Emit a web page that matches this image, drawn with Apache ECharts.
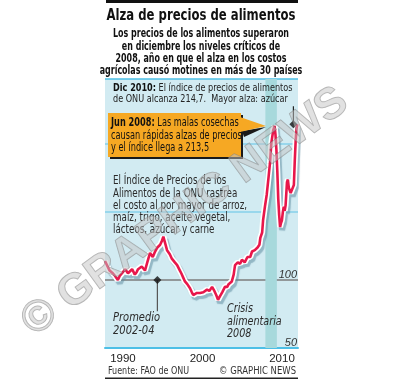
<!DOCTYPE html>
<html>
<head>
<meta charset="utf-8">
<script src="https://cdn.jsdelivr.net/npm/echarts@6/dist/echarts.min.js"></script>
<style>
html,body{margin:0;padding:0;background:#fff;}
#c{width:404px;height:381px;}
</style>
</head>
<body>
<div id="c"></div>
<script>
// ---- Data (FAO Food Price Index, 2002-04 = 100) ----
var years = [
  1990.0,1990.2,1990.5,1990.85,1991.1,1991.4,1991.6,1991.85,1992.2,1992.5,1992.7,1992.95,
  1993.25,1993.45,1993.6,1994.0,1994.35,1994.6,1994.9,1995.2,1995.45,1995.7,1996.0,1996.2,
  1996.35,1996.55,1996.75,1997.05,1997.25,1997.4,1997.6,1997.85,1998.15,1998.3,1998.5,1998.7,
  1998.95,1999.25,1999.45,1999.6,1999.8,2000.0,2000.35,2000.7,2000.9,2001.1,2001.35,2001.65,
  2001.9,2002.1,2002.3,2002.5,2002.75,2003.05,2003.3,2003.45,2003.8,2004.0,2004.15,2004.45,
  2004.7,2004.9,2005.2,2005.5,2005.8,2006.0,2006.3,2006.6,2006.8,2006.9,2007.1,2007.2,
  2007.4,2007.6,2007.8,2007.95,2008.1,2008.3,2008.45,2008.55,2008.65,2008.75,2008.85,2008.95,
  2009.05,2009.15,2009.25,2009.35,2009.45,2009.55,2009.65,2009.8,2009.9,2010.0,2010.2,2010.4,
  2010.55,2010.65,2010.75,2010.85,2010.92
];
var foodIndex = [
  114,113,107,105,103,100,103,105,108,105,106,108,
  104,106,108,110,107,113,120,117,121,124,126,129,
  132,127,122,119,116,115,113,111,107,105,102,99,
  97,94,91,89,90,90.5,90.5,91,92,93,92,95,
  92,89,85.5,88,91,95,95,97,99,104,111,113,
  112,115,113,117,117,121,122,124,126,131,135,144,
  154,163,176,186,201,210,213.5,207,196,180,160,148,
  139,142,144,150,154,151,155,172,174,168,164,163,
  170,188,203,212,214.7
];
var xTickLabels = [1990, 2000, 2010];
var yShownLabels = [50, 100];
var crisisBand = [2007.45, 2008.7];
var baseAvg = [1995.7, 100];      // "Promedio 2002-04" marker on the 100 line
var dec2010 = [2010.5, 214.7];    // Dec 2010 marker (drawn just left of the line end, as in the original)

var seriesData = years.map(function (y, i) { return [y, foodIndex[i]]; });

var COND = "'DejaVu Sans Condensed','Liberation Sans Narrow','Liberation Sans',sans-serif";
var SANS = "'Liberation Sans','DejaVu Sans',sans-serif";

var chart = echarts.init(document.getElementById('c'), null, {renderer: 'canvas'});

var option = {
  animation: false,
  backgroundColor: '#ffffff',
  grid: {left: 105, right: 106, top: 79, bottom: 33, show: true, backgroundColor: '#d2ebf2', borderWidth: 0},
  xAxis: [
    {
      type: 'value', min: 1990, max: 2011, gridIndex: 0,
      axisLine: {show: true, onZero: false, lineStyle: {color: '#4dbfe6', width: 2}},
      axisTick: {show: false}, axisLabel: {show: false}, splitLine: {show: false}
    },
    {
      type: 'value', min: 1987.74, max: 2012.01, gridIndex: 0, position: 'bottom',
      axisLine: {show: false}, axisTick: {show: false}, splitLine: {show: false},
      axisLabel: {
        show: true, customValues: xTickLabels, margin: 5,
        color: '#222', fontFamily: SANS, fontSize: 11.5,
        formatter: function (v) { return String(Math.round(v)); }
      }
    }
  ],
  yAxis: {
    type: 'value', min: 50, max: 248, interval: 50, position: 'right',
    axisLine: {show: false}, axisTick: {show: false},
    splitLine: {show: true, lineStyle: {color: ['#4dbfe6', '#7d7d7d', '#86d0ea', '#86d0ea'], width: 1.5}},
    axisLabel: {
      inside: true, verticalAlign: 'bottom', margin: 1,
      color: '#333', fontStyle: 'italic', fontFamily: SANS, fontSize: 11,
      formatter: function (v) { return yShownLabels.indexOf(v) >= 0 ? String(v) : ''; }
    }
  },
  series: [
    {
      type: 'line', xAxisIndex: 0, data: seriesData, showSymbol: false, z: 3,
      lineStyle: {color: '#ffffff', width: 6, shadowColor: 'rgba(95,140,160,0.55)', shadowOffsetX: 2, shadowOffsetY: 3, shadowBlur: 1},
      markArea: {
        silent: true,
        itemStyle: {color: '#a7d9dc'},
        data: [[{xAxis: crisisBand[0]}, {xAxis: crisisBand[1]}]]
      }
    },
    {
      type: 'line', xAxisIndex: 0, data: seriesData, showSymbol: false, z: 4,
      lineStyle: {color: '#e8174b', width: 2.6}
    },
    {
      type: 'line', xAxisIndex: 0, data: [baseAvg, [baseAvg[0], 77]], showSymbol: false, z: 5,
      lineStyle: {color: '#555', width: 1.2}
    },
    {
      type: 'line', xAxisIndex: 0, data: [dec2010, [dec2010[0], 228]], showSymbol: false, z: 5,
      lineStyle: {color: '#222', width: 1.2}
    },
    {
      type: 'scatter', xAxisIndex: 0, data: [baseAvg, dec2010], symbol: 'diamond', symbolSize: 8, z: 6,
      itemStyle: {color: '#111'}
    }
  ],
  graphic: [
    {type: 'rect', shape: {x: 106, y: 0, width: 192, height: 3}, style: {fill: '#111'}},
    {type: 'text', x: 201, y: 16, scaleX: 0.81, style: {text: 'Alza de precios de alimentos', align: 'center', verticalAlign: 'middle',
      font: "bold 16px " + COND, fill: '#111'}},
    {type: 'text', x: 201, y: 28, scaleX: 0.77, style: {
      text: 'Los precios de los alimentos superaron\nen diciembre los niveles críticos de\n2008, año en que el alza en los costos\nagrícolas causó motines en más de 30 países',
      align: 'center', verticalAlign: 'top', lineHeight: 12.4, font: "bold 11.5px " + COND, fill: '#111'}},
    // Dic 2010 note
    {type: 'text', x: 113, y: 82, z: 10, scaleX: 0.82, style: {
      text: '{b|Dic 2010:} El índice de precios de alimentos\nde ONU alcanza 214,7.  Mayor alza: azúcar',
      verticalAlign: 'top', lineHeight: 11.5, font: "11px " + COND, fill: '#222',
      rich: {b: {font: "bold 11px " + COND, fill: '#111'}}}},
    // Jun 2008 box
    {type: 'rect', z: 9, shape: {x: 110, y: 115, width: 133, height: 44}, style: {fill: '#1a1a1a'}},
    {type: 'polygon', z: 9, shape: {points: [[242, 131], [266, 127], [244, 137]]}, style: {fill: '#1a1a1a'}},
    {type: 'rect', z: 10, shape: {x: 108, y: 113, width: 133, height: 44}, style: {fill: '#f6a823'}},
    {type: 'polygon', z: 10, shape: {points: [[240, 117], [266, 126], [240, 132]]}, style: {fill: '#f6a823'}},
    {type: 'text', x: 111, y: 117, z: 11, scaleX: 0.76, style: {
      text: '{b|Jun 2008:} Las malas cosechas\ncausan rápidas alzas de precios\ny el índice llega a 213,5',
      verticalAlign: 'top', lineHeight: 12.3, font: "12px " + COND, fill: '#111',
      rich: {b: {font: "bold 12px " + COND, fill: '#111'}}}},
    // description
    {type: 'text', x: 113, y: 175, z: 10, scaleX: 0.81, style: {
      text: 'El Índice de Precios de los\nAlimentos de la ONU rastrea\nel costo al por mayor de arroz,\nmaíz, trigo, aceite vegetal,\nlácteos, azúcar y carne',
      verticalAlign: 'top', lineHeight: 12.3, font: "12px " + COND, fill: '#2a2a2a'}},
    {type: 'text', x: 113, y: 312, z: 10, scaleX: 0.92, style: {
      text: 'Promedio\n2002-04', verticalAlign: 'top', lineHeight: 12.3, font: "italic 12px " + COND, fill: '#2a2a2a'}},
    {type: 'text', x: 227, y: 303, z: 10, scaleX: 0.89, style: {
      text: 'Crisis\nalimentaria\n2008', verticalAlign: 'top', lineHeight: 12.5, font: "italic 12px " + COND, fill: '#2a2a2a'}},
    // footer
    {type: 'text', x: 108, y: 371, scaleX: 0.89, style: {text: 'Fuente: FAO de ONU', verticalAlign: 'middle', font: "10px " + COND, fill: '#333'}},
    {type: 'text', x: 296, y: 371, scaleX: 0.94, style: {text: '© GRAPHIC NEWS', align: 'right', verticalAlign: 'middle', font: "10px " + COND, fill: '#333'}},
    {type: 'rect', shape: {x: 105, y: 377.5, width: 193, height: 1.5}, style: {fill: '#222'}},
    // watermark
    {type: 'text', x: 185, y: 212, z: 50, rotation: 36 * Math.PI / 180, style: {
      text: '© GRAPHIC NEWS', align: 'center', verticalAlign: 'middle', font: "bold 44px " + SANS,
      fill: 'rgba(195,195,195,0.5)', stroke: 'rgba(120,120,120,0.55)', lineWidth: 1}}
  ]
};
chart.setOption(option);
</script>
</body>
</html>
